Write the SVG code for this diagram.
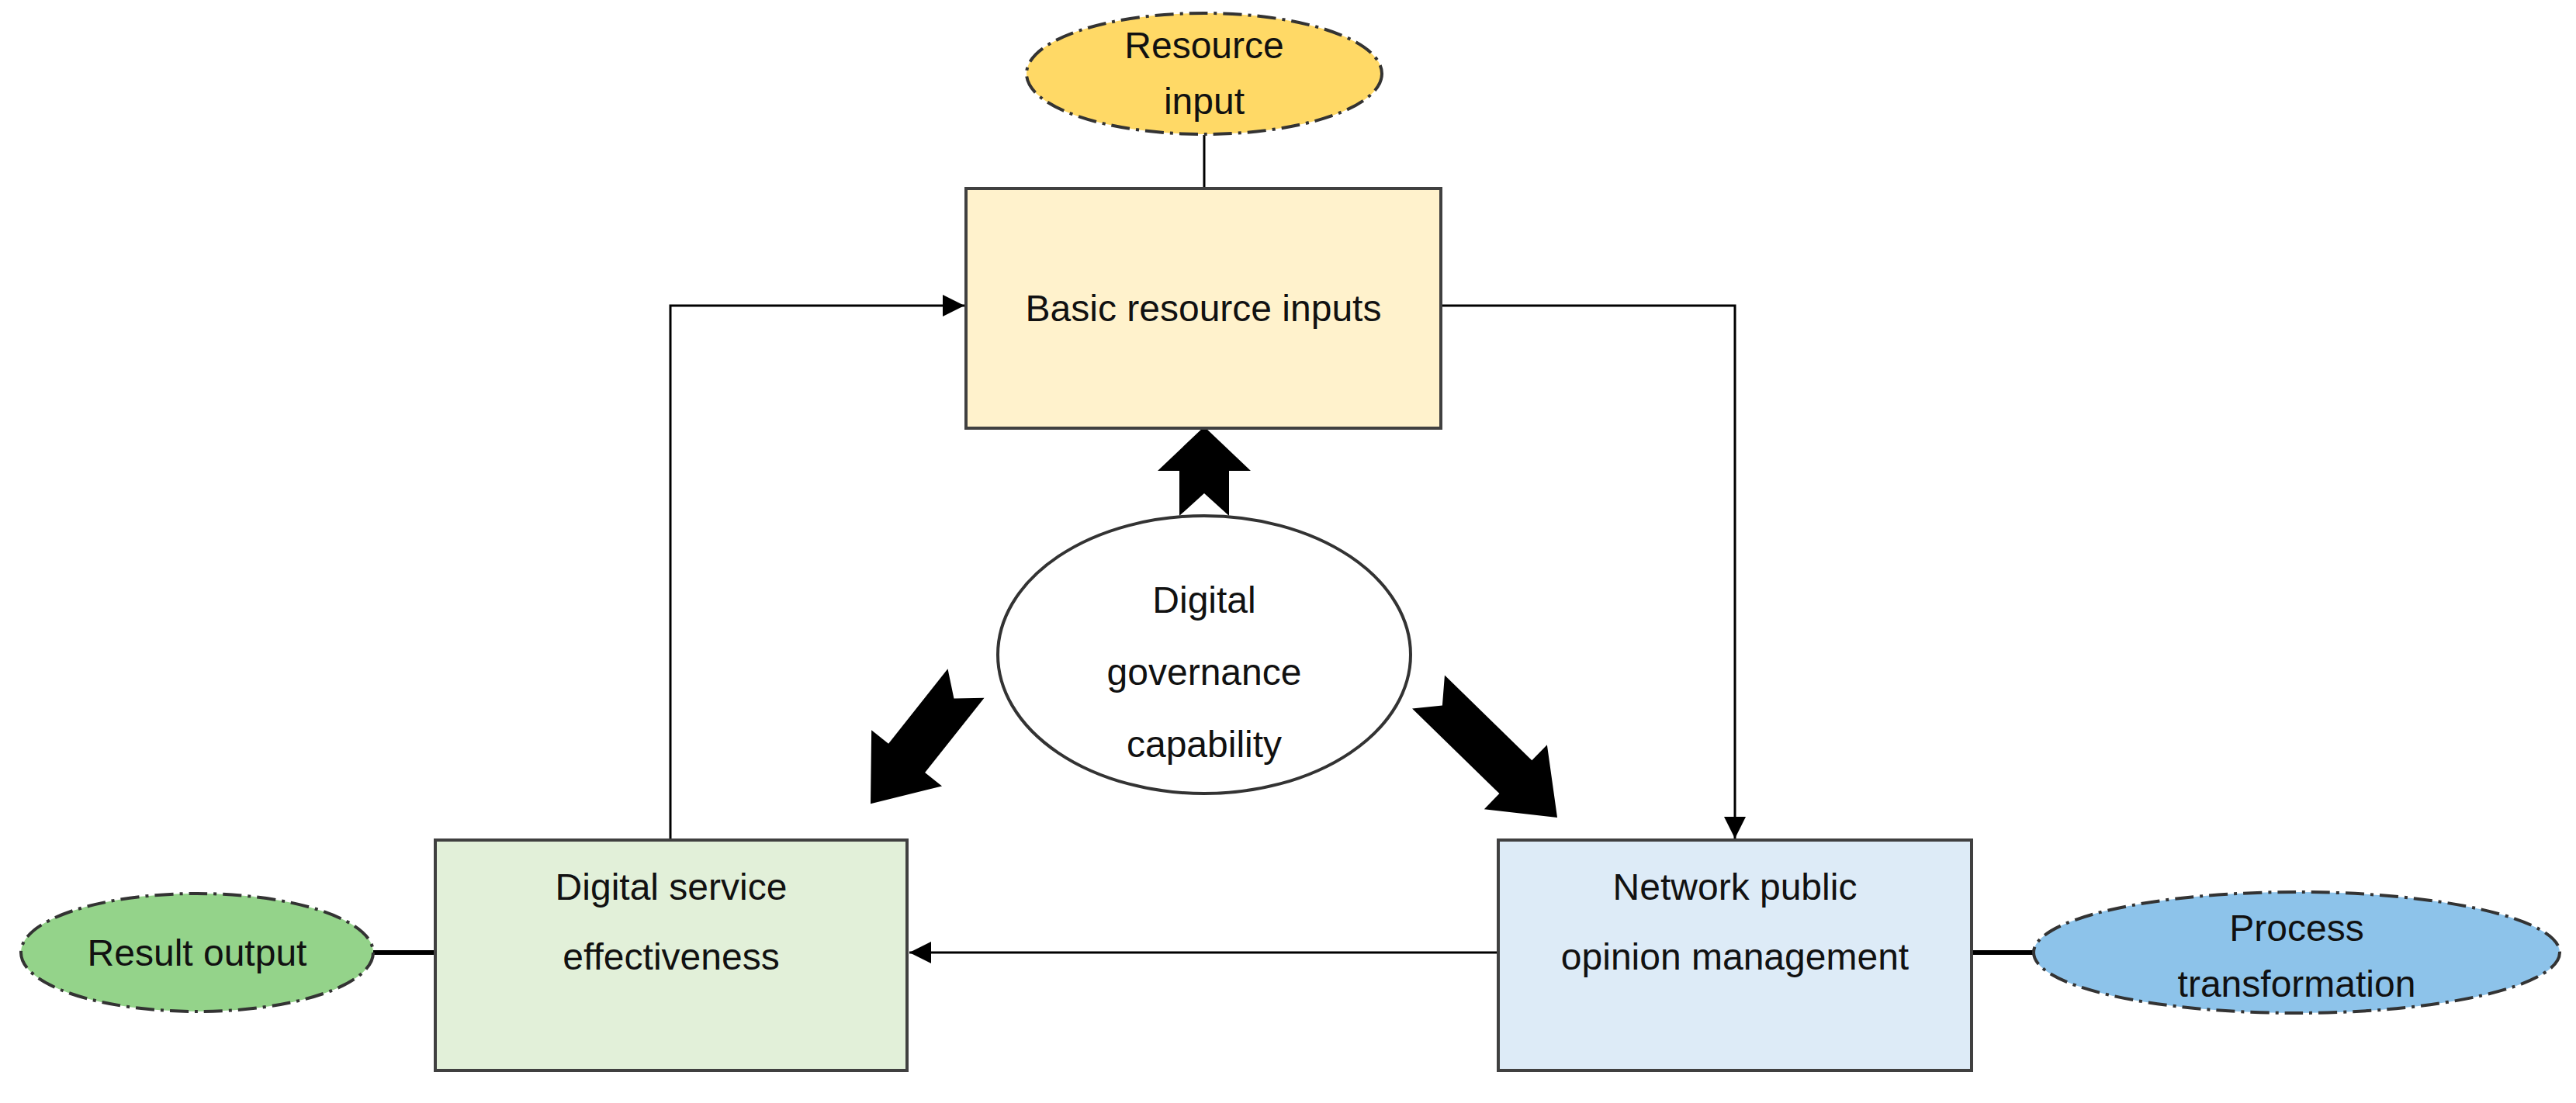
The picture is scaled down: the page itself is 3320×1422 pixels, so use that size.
<svg xmlns="http://www.w3.org/2000/svg" width="3320" height="1422" viewBox="0 0 3320 1422">
<defs>
<style>
.box{stroke:#404040;stroke-width:4}
.oval{stroke:#333;stroke-width:4;stroke-dasharray:24 8 4 8}
.t{font-family:"Liberation Sans",Arial,sans-serif;font-size:48px;fill:#111;text-anchor:middle}
.ln{fill:none;stroke:#000;stroke-width:3}
.big{fill:#000}
</style>
<marker id="ah" viewBox="0 0 10 10" refX="10" refY="5" markerWidth="10" markerHeight="10" markerUnits="userSpaceOnUse" orient="auto"><path d="M0,0L10,5L0,10z"/></marker>
<marker id="ah2" viewBox="0 0 10 10" refX="10" refY="5" markerWidth="28" markerHeight="28" markerUnits="userSpaceOnUse" orient="auto"><path d="M0,0L10,5L0,10z"/></marker>
</defs>
<rect width="3320" height="1422" fill="#fff"/>
<g id="connectors">
<line class="ln" x1="1552" y1="174" x2="1552" y2="243"/>
<line x1="481" y1="1228" x2="561" y2="1228" stroke="#000" stroke-width="6"/>
<line x1="2541" y1="1228" x2="2621" y2="1228" stroke="#000" stroke-width="6"/>
<polyline class="ln" points="1931,1228 1172,1228" marker-end="url(#ah2)"/>
<polyline class="ln" points="864,1083 864,394 1243,394" marker-end="url(#ah2)"/>
<polyline class="ln" points="1857,394 2236,394 2236,1081" marker-end="url(#ah2)"/>
<path class="big" transform="translate(1552,665) rotate(-90)" d="M0,-32L58,-32L58,-60L115,0L58,60L58,32L0,32L29,0z"/>
<path class="big" transform="translate(1245,881) rotate(128.4)" d="M0,-30L123,-30L123,-58L198,0L123,58L123,30L0,30L25,0z"/>
<path class="big" transform="translate(1841,892) rotate(44.3)" d="M0,-30L157,-30L157,-58L232,0L157,58L157,30L0,30L25,0z"/>
</g>
<g id="resource-input">
<ellipse class="oval" cx="1552" cy="95" rx="229" ry="78" fill="#FFD966"/>
<text class="t" x="1552" y="75">Resource</text>
<text class="t" x="1552" y="147">input</text>
</g>
<g id="basic-resource-inputs">
<rect class="box" x="1245" y="243" width="612" height="309" fill="#FFF2CC"/>
<text class="t" x="1551" y="414">Basic resource inputs</text>
</g>
<g id="digital-governance">
<ellipse cx="1552" cy="844" rx="266" ry="179" fill="#fff" stroke="#333" stroke-width="4"/>
<text class="t" x="1552" y="790">Digital</text>
<text class="t" x="1552" y="883">governance</text>
<text class="t" x="1552" y="976">capability</text>
</g>
<g id="digital-service">
<rect class="box" x="561" y="1083" width="608" height="297" fill="#E2F0D9"/>
<text class="t" x="865" y="1160">Digital service</text>
<text class="t" x="865" y="1250">effectiveness</text>
</g>
<g id="network-public">
<rect class="box" x="1931" y="1083" width="610" height="297" fill="#DDEBF7"/>
<text class="t" x="2236" y="1160">Network public</text>
<text class="t" x="2236" y="1250">opinion management</text>
</g>
<g id="result-output">
<ellipse class="oval" cx="254" cy="1228" rx="227" ry="76" fill="#94D38A"/>
<text class="t" x="254" y="1245">Result output</text>
</g>
<g id="process-transformation">
<ellipse class="oval" cx="2960" cy="1228" rx="339" ry="78" fill="#8DC3EA"/>
<text class="t" x="2960" y="1213">Process</text>
<text class="t" x="2960" y="1285">transformation</text>
</g>
</svg>
